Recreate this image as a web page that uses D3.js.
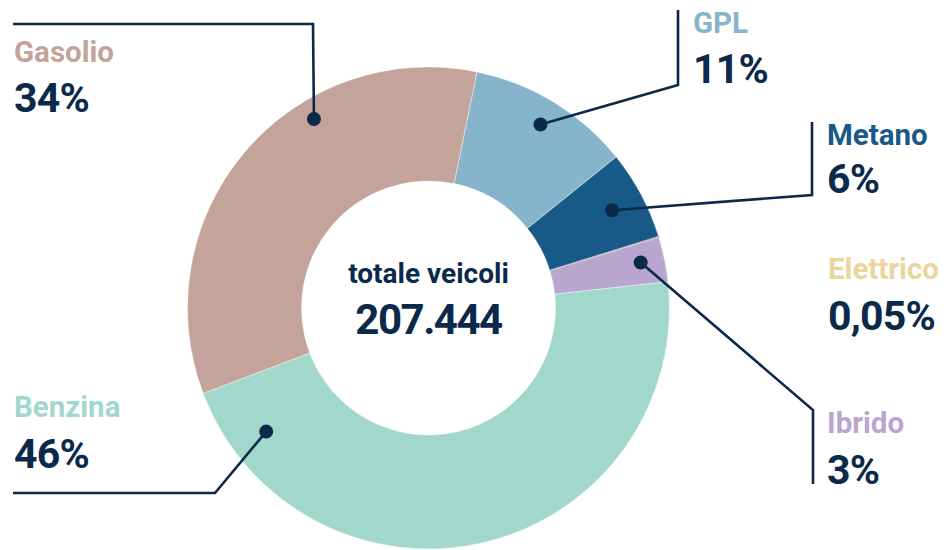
<!DOCTYPE html>
<html><head><meta charset="utf-8">
<script src="https://cdn.jsdelivr.net/npm/d3@7"></script>
<style>
html,body{margin:0;padding:0;background:#fff;}
text{font-family:Roboto,"DejaVu Sans",sans-serif;font-weight:700;}
</style></head>
<body><svg id="c" width="949" height="550"></svg>
<script>
// Data
const categories = ["GPL","Metano","Elettrico","Ibrido","Benzina","Gasolio"];
const values = [11, 6, 0.05, 3, 46, 34];
const pctLabels = ["11%","6%","0,05%","3%","46%","34%"];
const totalLabel = "totale veicoli";
const totalValue = "207.444";

// Styles
const sliceColors = ["#86b4cb","#175a87","#b5b5b5","#b9a6cf","#a2d8cc","#c4a39a"];
const labelColors = ["#86b4cb","#175a87","#ebd59c","#b9a6cf","#a2d8cc","#c4a39a"];
const navy = "#0b2a4a";

// Layout
const cx = 428.5, cy = 308, rOut = 241, rIn = 127;
const startDeg = 11.6;
const labelPos = [
  {x:693, y1:33, y2:83},
  {x:827, y1:145, y2:193},
  {x:828, y1:279, y2:330},
  {x:827, y1:433, y2:484},
  {x:14, y1:417, y2:468},
  {x:14, y1:62, y2:112}
];
const leaders = [
  {t:0.5, r:215, pts:[[678,85],[678,10]]},
  {t:0.5, r:208, pts:[[812,195],[812,122]]},
  null,
  {t:0.46, r:217, pts:[[813,410],[813,484]]},
  {t:0.90, r:204, pts:[[215,493],[13,493]]},
  {t:0.65, r:221, pts:[[313,24],[13,24]]}
];

const svg = d3.select("#c");
const g = svg.append("g").attr("transform",`translate(${cx},${cy})`);
const a0 = startDeg*Math.PI/180;
const pie = d3.pie().sort(null).startAngle(a0).endAngle(a0+2*Math.PI);
const arcs = pie(values);
const arc = d3.arc().innerRadius(rIn).outerRadius(rOut);

g.selectAll("path.s").data(arcs).join("path")
  .attr("class","s")
  .attr("d",arc)
  .attr("fill",(d,i)=>sliceColors[i])
  .attr("stroke",(d,i)=> categories[i]==="Elettrico" ? sliceColors[i] : "#fff")
  .attr("stroke-width",(d,i)=> categories[i]==="Elettrico" ? 1.2 : 0.4);

arcs.forEach((d,i)=>{
  const L = leaders[i];
  if(!L) return;
  const ang = d.startAngle + L.t*(d.endAngle-d.startAngle);
  const px = cx + L.r*Math.sin(ang), py = cy - L.r*Math.cos(ang);
  const pts = [[px,py]].concat(L.pts);
  svg.append("path").attr("d",d3.line()(pts))
    .attr("fill","none").attr("stroke",navy).attr("stroke-width",2.6);
  svg.append("circle").attr("cx",px).attr("cy",py).attr("r",7).attr("fill",navy);
});

categories.forEach((c,i)=>{
  const p = labelPos[i];
  svg.append("text").attr("x",p.x).attr("y",p.y1)
    .attr("font-size",29.5).attr("fill",labelColors[i]).text(c);
  svg.append("text").attr("x",p.x).attr("y",p.y2)
    .attr("font-size",41).attr("letter-spacing",-0.8).attr("fill",navy).text(pctLabels[i]);
});

svg.append("text").attr("x",cx).attr("y",283).attr("text-anchor","middle")
  .attr("font-size",28).attr("fill",navy).text(totalLabel);
svg.append("text").attr("x",cx).attr("y",334).attr("text-anchor","middle")
  .attr("font-size",42).attr("letter-spacing",-1.5).attr("fill",navy).text(totalValue);
</script></body></html>
